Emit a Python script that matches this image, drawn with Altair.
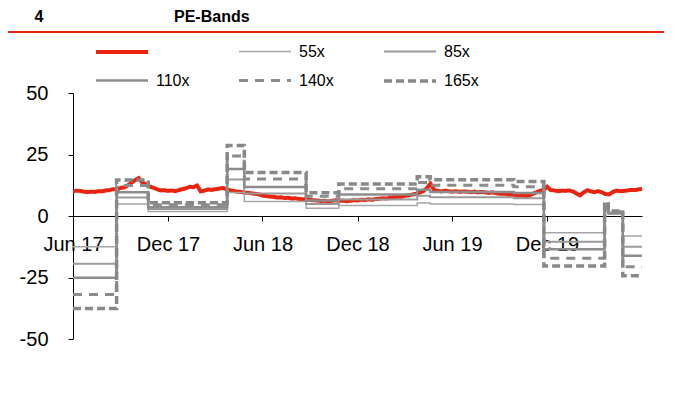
import altair as alt
import pandas as pd

FONT = "Liberation Sans"

# ---- series definitions ----
series_names = ["PE", "55x", "85x", "110x", "140x", "165x"]
series_colors = ["#E8230F", "#A6A6A6", "#9A9A9A", "#8C8C8C", "#8C8C8C", "#888888"]
series_dash = [[1, 0], [1, 0], [1, 0], [1, 0], [9, 7], [8, 4]]
series_width = [4, 1.5, 2, 2.5, 3, 3.5]

# ---- PE line (roughly weekly readings) ----
pe_values = [
    10.1, 10.3, 10.2, 9.9, 9.7, 9.9, 9.8, 10.1, 10.0, 10.4,
    10.5, 10.9, 10.8, 11.4, 11.6, 12.4, 13.5, 14.6, 15.4, 13.6,
    12.9, 12.0, 11.5, 10.9, 10.4, 10.5, 10.2, 10.4, 10.1, 10.5,
    10.9, 11.3, 11.9, 11.7, 12.4, 10.0, 10.3, 10.8, 10.6, 10.9,
    11.1, 11.4, 10.9, 10.5, 10.2, 9.9, 9.8, 9.5, 9.4, 9.2,
    9.0, 8.8, 8.3, 8.1, 7.9, 7.8, 7.5, 7.6, 7.3, 7.4,
    7.1, 7.2, 6.9, 6.8, 6.9, 6.5, 6.4, 6.3, 6.1, 6.2,
    5.9, 6.2, 6.4, 6.1, 6.3, 6.0, 6.2, 6.4, 6.3, 6.6,
    6.5, 6.8, 6.6, 6.9, 7.0, 7.2, 7.1, 7.5, 7.6, 7.9,
    7.8, 8.2, 8.4, 8.7, 9.0, 9.5, 10.1, 11.3, 13.1, 10.6,
    10.2, 10.0, 10.3, 10.1, 9.9, 10.1, 9.8, 10.0, 9.9, 9.7,
    9.9, 9.6, 9.8, 9.6, 9.4, 9.6, 9.3, 9.0, 9.1, 8.8,
    8.6, 8.5, 8.3, 8.4, 8.1, 8.3, 9.0, 9.6, 10.2, 10.6,
    11.9, 10.5, 10.4, 10.1, 10.3, 10.2, 10.4, 10.0, 9.2, 8.4,
    9.6, 10.5, 10.0, 9.7, 10.1, 9.6, 8.9, 8.8, 9.8, 10.3,
    10.1, 10.2, 10.4, 10.6, 10.5, 10.8, 11.1,
]
pe_dates = pd.date_range("2017-06-01", "2020-06-01", periods=len(pe_values))

# ---- PE bands (step changes) ----
band_starts = [
    "2017-06-01", "2017-08-24", "2017-10-24", "2018-03-25", "2018-04-27",
    "2018-08-24", "2018-10-26", "2019-03-26", "2019-04-20", "2019-09-28",
    "2019-11-25", "2020-03-21", "2020-03-28", "2020-04-25", "2020-06-01",
]
band_55 = [-12.5, 4.9, 1.8, 9.6, 5.9, 3.2, 4.3, 5.3, 4.9, 4.7, -6.8, 1.9, 0.7, -8.1, -8.1]
band_85 = [-19.4, 7.5, 2.8, 14.8, 9.1, 4.9, 6.7, 8.2, 7.6, 7.2, -10.5, 2.9, 1.0, -12.5, -12.5]
band_110 = [-25.1, 9.7, 3.6, 19.1, 11.8, 6.3, 8.7, 10.7, 9.8, 9.4, -13.5, 3.7, 1.3, -16.2, -16.2]
band_140 = [-31.9, 12.4, 4.6, 24.4, 15.0, 8.0, 11.1, 13.6, 12.5, 11.9, -17.2, 4.8, 1.7, -20.6, -20.6]
band_165 = [-37.6, 14.6, 5.4, 28.7, 17.7, 9.5, 13.0, 16.0, 14.7, 14.0, -20.3, 5.6, 2.0, -24.3, -24.3]

x_ticks = ["2017-06-01", "2017-12-01", "2018-06-01", "2018-12-01", "2019-06-01", "2019-12-01"]
y_ticks = [-50, -25, 0, 25, 50]

# ---- tables ----
df_pe = pd.DataFrame({"date": pe_dates, "value": pe_values, "series": "PE"})
rows = []
for name, vals in zip(series_names[1:], [band_55, band_85, band_110, band_140, band_165]):
    for d, v in zip(band_starts, vals):
        rows.append({"date": pd.Timestamp(d), "value": v, "series": name})
df_bands = pd.DataFrame(rows)


def dt(s):
    t = pd.Timestamp(s)
    return alt.DateTime(year=t.year, month=t.month, date=t.day)


legend = alt.Legend(
    title=None, orient="none", direction="horizontal", legendX=37, legendY=-53, columns=3,
    symbolType="M-2.6,0H2.6", symbolSize=400, labelOffset=22,
    columnPadding=43, rowPadding=9, labelFontSize=16, labelFont=FONT,
    labelColor="black", padding=0,
    labelExpr="datum.label == 'PE' ? '' : datum.label",
)

X = alt.X(
    "date:T",
    scale=alt.Scale(domain=[dt("2017-06-01"), dt("2020-06-01")]),
    axis=alt.Axis(
        title=None, values=[dt(s) for s in x_ticks], format="%b %y",
        offset=-123, grid=False, domainColor="black", tickColor="black",
        tickSize=5, labelFontSize=20, labelFont=FONT, labelColor="black",
        labelPadding=13, labelFlush=False, labelOverlap=False, labelBound=False,
    ),
)
Y = alt.Y(
    "value:Q",
    scale=alt.Scale(domain=[-50, 50], nice=False, zero=False),
    axis=alt.Axis(
        title=None, values=y_ticks, grid=False, domainColor="black",
        tickColor="black", tickSize=5, labelFontSize=20, labelFont=FONT,
        labelColor="black", labelPadding=20, labelExpr="'' + datum.value",
    ),
)
C = alt.Color("series:N", scale=alt.Scale(domain=series_names, range=series_colors), legend=legend)
D = alt.StrokeDash("series:N", scale=alt.Scale(domain=series_names, range=series_dash), legend=legend)
W = alt.StrokeWidth("series:N", scale=alt.Scale(type="ordinal", domain=series_names, range=series_width), legend=legend)

pe_layer = alt.Chart(df_pe).mark_line(interpolate="linear").encode(x=X, y=Y, color=C, strokeDash=D, strokeWidth=W)
band_layer = alt.Chart(df_bands).mark_line(interpolate="step-after").encode(x=X, y=Y, color=C, strokeDash=D, strokeWidth=W)

header_num = alt.Chart(pd.DataFrame({"t": ["4"]})).mark_text(
    font=FONT, fontSize=16, fontWeight="bold", align="center", baseline="middle", color="black"
).encode(text="t:N", x=alt.value(-34), y=alt.value(-76))
header_title = alt.Chart(pd.DataFrame({"t": ["PE-Bands"]})).mark_text(
    font=FONT, fontSize=16, fontWeight="bold", align="left", baseline="middle", color="black"
).encode(text="t:N", x=alt.value(101), y=alt.value(-76))
header_rule = alt.Chart(pd.DataFrame({"t": [0]})).mark_rule(color="#E8230F", strokeWidth=2).encode(
    x=alt.value(-71), x2=alt.value(592), y=alt.value(-61)
)

chart = alt.layer(pe_layer, band_layer, header_rule, header_num, header_title).properties(
    width=569, height=246,
    padding={"left": 65, "top": 85, "right": 22, "bottom": 58},
    autosize=alt.AutoSizeParams(type="none"),
).configure(background="white").configure_view(stroke=None)

chart.save("out.html", embed_options={"renderer": "svg", "actions": False})
